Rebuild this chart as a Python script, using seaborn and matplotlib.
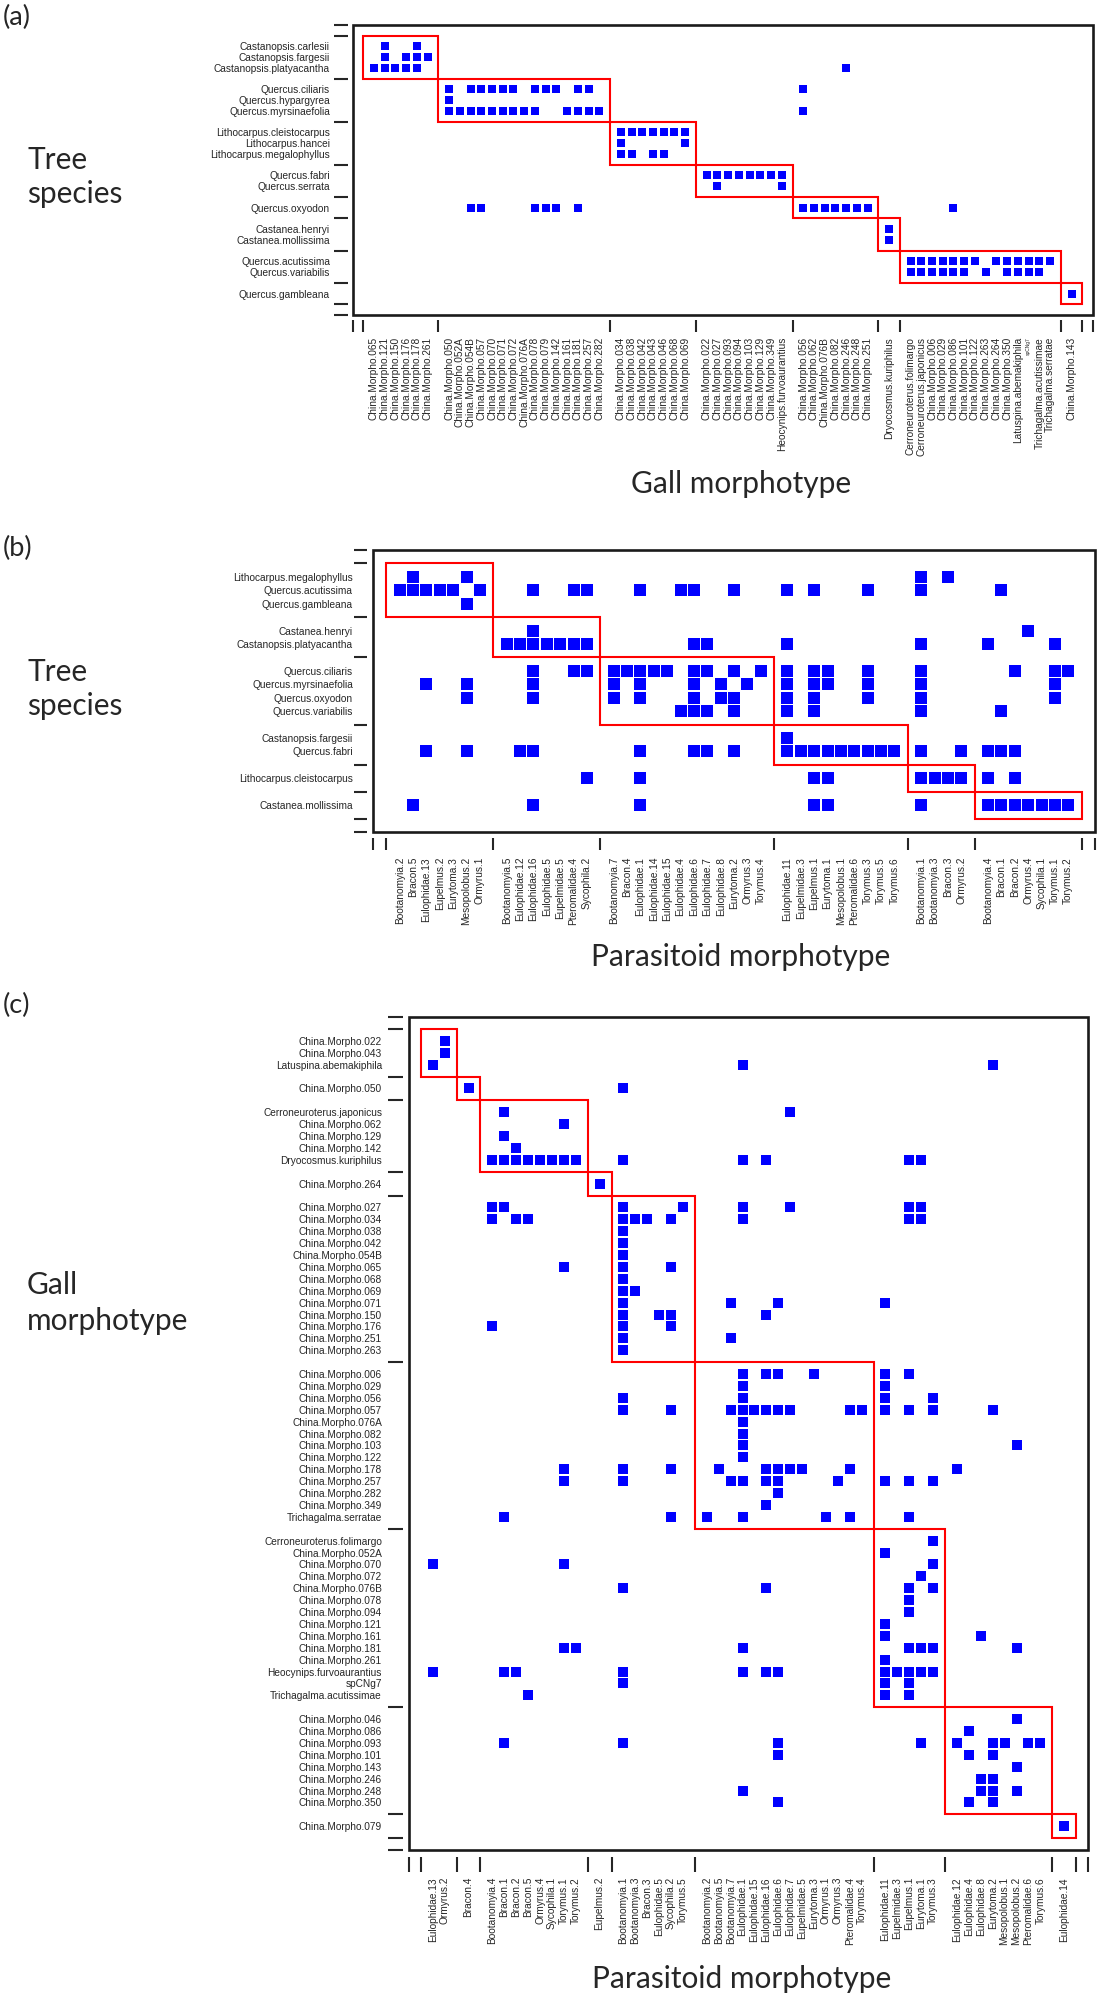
import numpy as np
import pandas as pd
import matplotlib
matplotlib.use("Agg")
import matplotlib.pyplot as plt
from matplotlib.patches import Rectangle
import seaborn as sns

# ---------------- Panel (a): tree species x gall morphotype ----------------
a_row_groups = [
    ["Castanopsis.carlesii", "Castanopsis.fargesii", "Castanopsis.platyacantha"],
    ["Quercus.ciliaris", "Quercus.hypargyrea", "Quercus.myrsinaefolia"],
    ["Lithocarpus.cleistocarpus", "Lithocarpus.hancei", "Lithocarpus.megalophyllus"],
    ["Quercus.fabri", "Quercus.serrata"],
    ["Quercus.oxyodon"],
    ["Castanea.henryi", "Castanea.mollissima"],
    ["Quercus.acutissima", "Quercus.variabilis"],
    ["Quercus.gambleana"],
]
a_col_groups = [
    ["China.Morpho.065", "China.Morpho.121", "China.Morpho.150", "China.Morpho.176",
     "China.Morpho.178", "China.Morpho.261"],
    ["China.Morpho.050", "China.Morpho.052A", "China.Morpho.054B", "China.Morpho.057",
     "China.Morpho.070", "China.Morpho.071", "China.Morpho.072", "China.Morpho.076A",
     "China.Morpho.078", "China.Morpho.079", "China.Morpho.142", "China.Morpho.161",
     "China.Morpho.181", "China.Morpho.257", "China.Morpho.282"],
    ["China.Morpho.034", "China.Morpho.038", "China.Morpho.042", "China.Morpho.043",
     "China.Morpho.046", "China.Morpho.068", "China.Morpho.069"],
    ["China.Morpho.022", "China.Morpho.027", "China.Morpho.093", "China.Morpho.094",
     "China.Morpho.103", "China.Morpho.129", "China.Morpho.349", "Heocynips.furvoaurantius"],
    ["China.Morpho.056", "China.Morpho.062", "China.Morpho.076B", "China.Morpho.082",
     "China.Morpho.246", "China.Morpho.248", "China.Morpho.251"],
    ["Dryocosmus.kuriphilus"],
    ["Cerroneuroterus.folimargo", "Cerroneuroterus.japonicus", "China.Morpho.006",
     "China.Morpho.029", "China.Morpho.086", "China.Morpho.101", "China.Morpho.122",
     "China.Morpho.263", "China.Morpho.264", "China.Morpho.350", "Latuspina.abemakiphila",
     "spCNg7", "Trichagalma.acutissimae", "Trichagalma.serratae"],
    ["China.Morpho.143"],
]
a_links = {
    "Castanopsis.carlesii": ["China.Morpho.121", "China.Morpho.178"],
    "Castanopsis.fargesii": ["China.Morpho.121", "China.Morpho.176", "China.Morpho.178",
                             "China.Morpho.261"],
    "Castanopsis.platyacantha": ["China.Morpho.065", "China.Morpho.121", "China.Morpho.150",
                                 "China.Morpho.176", "China.Morpho.178", "China.Morpho.246"],
    "Quercus.ciliaris": ["China.Morpho.050", "China.Morpho.054B", "China.Morpho.057",
                         "China.Morpho.070", "China.Morpho.071", "China.Morpho.072",
                         "China.Morpho.078", "China.Morpho.079", "China.Morpho.142",
                         "China.Morpho.181", "China.Morpho.257", "China.Morpho.056"],
    "Quercus.hypargyrea": ["China.Morpho.050"],
    "Quercus.myrsinaefolia": ["China.Morpho.050", "China.Morpho.052A", "China.Morpho.054B",
                              "China.Morpho.057", "China.Morpho.070", "China.Morpho.071",
                              "China.Morpho.072", "China.Morpho.076A", "China.Morpho.078",
                              "China.Morpho.161", "China.Morpho.181", "China.Morpho.257",
                              "China.Morpho.282", "China.Morpho.056"],
    "Lithocarpus.cleistocarpus": ["China.Morpho.034", "China.Morpho.038", "China.Morpho.042",
                                  "China.Morpho.043", "China.Morpho.046", "China.Morpho.068",
                                  "China.Morpho.069"],
    "Lithocarpus.hancei": ["China.Morpho.034", "China.Morpho.069"],
    "Lithocarpus.megalophyllus": ["China.Morpho.034", "China.Morpho.038", "China.Morpho.043",
                                  "China.Morpho.046"],
    "Quercus.fabri": ["China.Morpho.022", "China.Morpho.027", "China.Morpho.093",
                      "China.Morpho.094", "China.Morpho.103", "China.Morpho.129",
                      "China.Morpho.349", "Heocynips.furvoaurantius"],
    "Quercus.serrata": ["China.Morpho.027", "Heocynips.furvoaurantius"],
    "Quercus.oxyodon": ["China.Morpho.054B", "China.Morpho.057", "China.Morpho.078",
                        "China.Morpho.079", "China.Morpho.142", "China.Morpho.181",
                        "China.Morpho.056", "China.Morpho.062", "China.Morpho.076B",
                        "China.Morpho.082", "China.Morpho.246", "China.Morpho.248",
                        "China.Morpho.251", "China.Morpho.086"],
    "Castanea.henryi": ["Dryocosmus.kuriphilus"],
    "Castanea.mollissima": ["Dryocosmus.kuriphilus"],
    "Quercus.acutissima": ["Cerroneuroterus.folimargo", "Cerroneuroterus.japonicus",
                           "China.Morpho.006", "China.Morpho.029", "China.Morpho.086",
                           "China.Morpho.101", "China.Morpho.122", "China.Morpho.264",
                           "China.Morpho.350", "Latuspina.abemakiphila", "spCNg7",
                           "Trichagalma.acutissimae", "Trichagalma.serratae"],
    "Quercus.variabilis": ["Cerroneuroterus.folimargo", "Cerroneuroterus.japonicus",
                           "China.Morpho.006", "China.Morpho.029", "China.Morpho.086",
                           "China.Morpho.101", "China.Morpho.263", "China.Morpho.350",
                           "Latuspina.abemakiphila", "spCNg7", "Trichagalma.acutissimae"],
    "Quercus.gambleana": ["China.Morpho.143"],
}

# ---------------- Panel (b): tree species x parasitoid morphotype ----------------
b_row_groups = [
    ["Lithocarpus.megalophyllus", "Quercus.acutissima", "Quercus.gambleana"],
    ["Castanea.henryi", "Castanopsis.platyacantha"],
    ["Quercus.ciliaris", "Quercus.myrsinaefolia", "Quercus.oxyodon", "Quercus.variabilis"],
    ["Castanopsis.fargesii", "Quercus.fabri"],
    ["Lithocarpus.cleistocarpus"],
    ["Castanea.mollissima"],
]
b_col_groups = [
    ["Bootanomyia.2", "Bracon.5", "Eulophidae.13", "Eupelmus.2", "Eurytoma.3",
     "Mesopolobus.2", "Ormyrus.1"],
    ["Bootanomyia.5", "Eulophidae.12", "Eulophidae.16", "Eulophidae.5", "Eupelmidae.5",
     "Pteromalidae.4", "Sycophila.2"],
    ["Bootanomyia.7", "Bracon.4", "Eulophidae.1", "Eulophidae.14", "Eulophidae.15",
     "Eulophidae.4", "Eulophidae.6", "Eulophidae.7", "Eulophidae.8", "Eurytoma.2",
     "Ormyrus.3", "Torymus.4"],
    ["Eulophidae.11", "Eupelmidae.3", "Eupelmus.1", "Eurytoma.1", "Mesopolobus.1",
     "Pteromalidae.6", "Torymus.3", "Torymus.5", "Torymus.6"],
    ["Bootanomyia.1", "Bootanomyia.3", "Bracon.3", "Ormyrus.2"],
    ["Bootanomyia.4", "Bracon.1", "Bracon.2", "Ormyrus.4", "Sycophila.1", "Torymus.1",
     "Torymus.2"],
]
b_links = {
    "Lithocarpus.megalophyllus": ["Bracon.5", "Mesopolobus.2", "Bootanomyia.1", "Bracon.3"],
    "Quercus.acutissima": ["Bootanomyia.2", "Bracon.5", "Eulophidae.13", "Eupelmus.2",
                           "Eurytoma.3", "Ormyrus.1", "Eulophidae.16", "Pteromalidae.4",
                           "Sycophila.2", "Eulophidae.1", "Eulophidae.4", "Eulophidae.6",
                           "Eurytoma.2", "Eulophidae.11", "Eupelmus.1", "Torymus.3",
                           "Bootanomyia.1", "Bracon.1"],
    "Quercus.gambleana": ["Mesopolobus.2"],
    "Castanea.henryi": ["Eulophidae.16", "Ormyrus.4"],
    "Castanopsis.platyacantha": ["Bootanomyia.5", "Eulophidae.12", "Eulophidae.16",
                                 "Eulophidae.5", "Eupelmidae.5", "Pteromalidae.4",
                                 "Sycophila.2", "Eulophidae.6", "Eulophidae.7",
                                 "Eulophidae.11", "Bootanomyia.1", "Bootanomyia.4",
                                 "Torymus.1"],
    "Quercus.ciliaris": ["Eulophidae.16", "Pteromalidae.4", "Sycophila.2", "Bootanomyia.7",
                         "Bracon.4", "Eulophidae.1", "Eulophidae.14", "Eulophidae.15",
                         "Eulophidae.6", "Eulophidae.7", "Eurytoma.2", "Torymus.4",
                         "Eulophidae.11", "Eupelmus.1", "Eurytoma.1", "Torymus.3",
                         "Bootanomyia.1", "Bracon.2", "Torymus.1", "Torymus.2"],
    "Quercus.myrsinaefolia": ["Eulophidae.13", "Mesopolobus.2", "Eulophidae.16",
                              "Bootanomyia.7", "Eulophidae.1", "Eulophidae.6",
                              "Eulophidae.8", "Ormyrus.3", "Eulophidae.11", "Eupelmus.1",
                              "Eurytoma.1", "Torymus.3", "Bootanomyia.1", "Torymus.1"],
    "Quercus.oxyodon": ["Mesopolobus.2", "Eulophidae.16", "Bootanomyia.7", "Eulophidae.1",
                        "Eulophidae.6", "Eulophidae.8", "Eurytoma.2", "Eulophidae.11",
                        "Eupelmus.1", "Torymus.3", "Bootanomyia.1", "Torymus.1"],
    "Quercus.variabilis": ["Eulophidae.4", "Eulophidae.6", "Eulophidae.7", "Eurytoma.2",
                           "Eulophidae.11", "Eupelmus.1", "Bootanomyia.1", "Bracon.1"],
    "Castanopsis.fargesii": ["Eulophidae.11"],
    "Quercus.fabri": ["Eulophidae.13", "Mesopolobus.2", "Eulophidae.12", "Eulophidae.16",
                      "Eulophidae.1", "Eulophidae.6", "Eulophidae.7", "Eurytoma.2",
                      "Eulophidae.11", "Eupelmidae.3", "Eupelmus.1", "Eurytoma.1",
                      "Mesopolobus.1", "Pteromalidae.6", "Torymus.3", "Torymus.5",
                      "Torymus.6", "Bootanomyia.1", "Ormyrus.2", "Bootanomyia.4",
                      "Bracon.1", "Bracon.2"],
    "Lithocarpus.cleistocarpus": ["Sycophila.2", "Eulophidae.1", "Eupelmus.1", "Eurytoma.1",
                                  "Bootanomyia.1", "Bootanomyia.3", "Bracon.3", "Ormyrus.2",
                                  "Bootanomyia.4", "Bracon.2"],
    "Castanea.mollissima": ["Bracon.5", "Eulophidae.16", "Eulophidae.1", "Eupelmus.1",
                            "Eurytoma.1", "Bootanomyia.1", "Bootanomyia.4", "Bracon.1",
                            "Bracon.2", "Ormyrus.4", "Sycophila.1", "Torymus.1", "Torymus.2"],
}

# ---------------- Panel (c): gall morphotype x parasitoid morphotype ----------------
c_row_groups = [
    ["China.Morpho.022", "China.Morpho.043", "Latuspina.abemakiphila"],
    ["China.Morpho.050"],
    ["Cerroneuroterus.japonicus", "China.Morpho.062", "China.Morpho.129", "China.Morpho.142",
     "Dryocosmus.kuriphilus"],
    ["China.Morpho.264"],
    ["China.Morpho.027", "China.Morpho.034", "China.Morpho.038", "China.Morpho.042",
     "China.Morpho.054B", "China.Morpho.065", "China.Morpho.068", "China.Morpho.069",
     "China.Morpho.071", "China.Morpho.150", "China.Morpho.176", "China.Morpho.251",
     "China.Morpho.263"],
    ["China.Morpho.006", "China.Morpho.029", "China.Morpho.056", "China.Morpho.057",
     "China.Morpho.076A", "China.Morpho.082", "China.Morpho.103", "China.Morpho.122",
     "China.Morpho.178", "China.Morpho.257", "China.Morpho.282", "China.Morpho.349",
     "Trichagalma.serratae"],
    ["Cerroneuroterus.folimargo", "China.Morpho.052A", "China.Morpho.070", "China.Morpho.072",
     "China.Morpho.076B", "China.Morpho.078", "China.Morpho.094", "China.Morpho.121",
     "China.Morpho.161", "China.Morpho.181", "China.Morpho.261", "Heocynips.furvoaurantius",
     "spCNg7", "Trichagalma.acutissimae"],
    ["China.Morpho.046", "China.Morpho.086", "China.Morpho.093", "China.Morpho.101",
     "China.Morpho.143", "China.Morpho.246", "China.Morpho.248", "China.Morpho.350"],
    ["China.Morpho.079"],
]
c_col_groups = [
    ["Eulophidae.13", "Ormyrus.2"],
    ["Bracon.4"],
    ["Bootanomyia.4", "Bracon.1", "Bracon.2", "Bracon.5", "Ormyrus.4", "Sycophila.1",
     "Torymus.1", "Torymus.2"],
    ["Eupelmus.2"],
    ["Bootanomyia.1", "Bootanomyia.3", "Bracon.3", "Eulophidae.5", "Sycophila.2", "Torymus.5"],
    ["Bootanomyia.2", "Bootanomyia.5", "Bootanomyia.7", "Eulophidae.1", "Eulophidae.15",
     "Eulophidae.16", "Eulophidae.6", "Eulophidae.7", "Eupelmidae.5", "Eurytoma.3",
     "Ormyrus.1", "Ormyrus.3", "Pteromalidae.4", "Torymus.4"],
    ["Eulophidae.11", "Eupelmidae.3", "Eupelmus.1", "Eurytoma.1", "Torymus.3"],
    ["Eulophidae.12", "Eulophidae.4", "Eulophidae.8", "Eurytoma.2", "Mesopolobus.1",
     "Mesopolobus.2", "Pteromalidae.6", "Torymus.6"],
    ["Eulophidae.14"],
]
c_links = {
    "China.Morpho.022": ["Ormyrus.2"],
    "China.Morpho.043": ["Ormyrus.2"],
    "Latuspina.abemakiphila": ["Eulophidae.13", "Eulophidae.1", "Eurytoma.2"],
    "China.Morpho.050": ["Bracon.4", "Bootanomyia.1"],
    "Cerroneuroterus.japonicus": ["Bracon.1", "Eulophidae.7"],
    "China.Morpho.062": ["Torymus.1"],
    "China.Morpho.129": ["Bracon.1"],
    "China.Morpho.142": ["Bracon.2"],
    "Dryocosmus.kuriphilus": ["Bootanomyia.4", "Bracon.1", "Bracon.2", "Bracon.5", "Ormyrus.4",
                              "Sycophila.1", "Torymus.1", "Torymus.2", "Bootanomyia.1",
                              "Eulophidae.1", "Eulophidae.16", "Eupelmus.1", "Eurytoma.1"],
    "China.Morpho.264": ["Eupelmus.2"],
    "China.Morpho.027": ["Bootanomyia.4", "Bracon.1", "Bootanomyia.1", "Torymus.5",
                         "Eulophidae.1", "Eulophidae.7", "Eupelmus.1", "Eurytoma.1"],
    "China.Morpho.034": ["Bootanomyia.4", "Bracon.2", "Bracon.5", "Bootanomyia.1",
                         "Bootanomyia.3", "Bracon.3", "Sycophila.2", "Eulophidae.1",
                         "Eupelmus.1", "Eurytoma.1"],
    "China.Morpho.038": ["Bootanomyia.1"],
    "China.Morpho.042": ["Bootanomyia.1"],
    "China.Morpho.054B": ["Bootanomyia.1"],
    "China.Morpho.065": ["Torymus.1", "Bootanomyia.1", "Sycophila.2"],
    "China.Morpho.068": ["Bootanomyia.1"],
    "China.Morpho.069": ["Bootanomyia.1", "Bootanomyia.3"],
    "China.Morpho.071": ["Bootanomyia.1", "Bootanomyia.7", "Eulophidae.6", "Eulophidae.11"],
    "China.Morpho.150": ["Bootanomyia.1", "Eulophidae.5", "Sycophila.2", "Eulophidae.16"],
    "China.Morpho.176": ["Bootanomyia.4", "Bootanomyia.1", "Sycophila.2"],
    "China.Morpho.251": ["Bootanomyia.1", "Bootanomyia.7"],
    "China.Morpho.263": ["Bootanomyia.1"],
    "China.Morpho.006": ["Eulophidae.1", "Eulophidae.16", "Eulophidae.6", "Eurytoma.3",
                         "Eulophidae.11", "Eupelmus.1"],
    "China.Morpho.029": ["Eulophidae.1", "Eulophidae.11"],
    "China.Morpho.056": ["Bootanomyia.1", "Eulophidae.1", "Eulophidae.11", "Torymus.3"],
    "China.Morpho.057": ["Bootanomyia.1", "Sycophila.2", "Bootanomyia.7", "Eulophidae.1",
                         "Eulophidae.15", "Eulophidae.16", "Eulophidae.6", "Eulophidae.7",
                         "Pteromalidae.4", "Torymus.4", "Eulophidae.11", "Eupelmus.1",
                         "Torymus.3", "Eurytoma.2"],
    "China.Morpho.076A": ["Eulophidae.1"],
    "China.Morpho.082": ["Eulophidae.1"],
    "China.Morpho.103": ["Eulophidae.1", "Mesopolobus.2"],
    "China.Morpho.122": ["Eulophidae.1"],
    "China.Morpho.178": ["Torymus.1", "Bootanomyia.1", "Sycophila.2", "Bootanomyia.5",
                         "Eulophidae.16", "Eulophidae.6", "Eulophidae.7", "Eupelmidae.5",
                         "Pteromalidae.4", "Eulophidae.12"],
    "China.Morpho.257": ["Torymus.1", "Bootanomyia.1", "Bootanomyia.7", "Eulophidae.1",
                         "Eulophidae.16", "Eulophidae.6", "Ormyrus.3", "Eulophidae.11",
                         "Eupelmus.1", "Torymus.3"],
    "China.Morpho.282": ["Eulophidae.6"],
    "China.Morpho.349": ["Eulophidae.16"],
    "Trichagalma.serratae": ["Bracon.1", "Sycophila.2", "Bootanomyia.2", "Eulophidae.1",
                             "Ormyrus.1", "Pteromalidae.4", "Eupelmus.1"],
    "Cerroneuroterus.folimargo": ["Torymus.3"],
    "China.Morpho.052A": ["Eulophidae.11"],
    "China.Morpho.070": ["Eulophidae.13", "Torymus.1", "Torymus.3"],
    "China.Morpho.072": ["Eurytoma.1"],
    "China.Morpho.076B": ["Bootanomyia.1", "Eulophidae.16", "Eupelmus.1", "Torymus.3"],
    "China.Morpho.078": ["Eupelmus.1"],
    "China.Morpho.094": ["Eupelmus.1"],
    "China.Morpho.121": ["Eulophidae.11"],
    "China.Morpho.161": ["Eulophidae.11", "Eulophidae.8"],
    "China.Morpho.181": ["Torymus.1", "Torymus.2", "Eulophidae.1", "Eupelmus.1", "Eurytoma.1",
                         "Torymus.3", "Mesopolobus.2"],
    "China.Morpho.261": ["Eulophidae.11"],
    "Heocynips.furvoaurantius": ["Eulophidae.13", "Bracon.1", "Bracon.2", "Bootanomyia.1",
                                 "Eulophidae.1", "Eulophidae.16", "Eulophidae.6",
                                 "Eulophidae.11", "Eupelmidae.3", "Eupelmus.1", "Eurytoma.1",
                                 "Torymus.3"],
    "spCNg7": ["Bootanomyia.1", "Eulophidae.11", "Eupelmus.1"],
    "Trichagalma.acutissimae": ["Bracon.5", "Eulophidae.11", "Eupelmus.1"],
    "China.Morpho.046": ["Mesopolobus.2"],
    "China.Morpho.086": ["Eulophidae.4"],
    "China.Morpho.093": ["Bracon.1", "Bootanomyia.1", "Eulophidae.6", "Eurytoma.1",
                         "Eulophidae.12", "Eurytoma.2", "Mesopolobus.1", "Pteromalidae.6",
                         "Torymus.6"],
    "China.Morpho.101": ["Eulophidae.6", "Eulophidae.4", "Eurytoma.2"],
    "China.Morpho.143": ["Mesopolobus.2"],
    "China.Morpho.246": ["Eulophidae.8", "Eurytoma.2"],
    "China.Morpho.248": ["Eulophidae.1", "Eulophidae.8", "Eurytoma.2", "Mesopolobus.2"],
    "China.Morpho.350": ["Eulophidae.6", "Eulophidae.4", "Eurytoma.2"],
    "China.Morpho.079": ["Eulophidae.14"],
}

# ---------------- drawing ----------------
sns.set_style("white")
plt.rcParams["font.family"] = ["Liberation Sans", "DejaVu Sans"]

W, H = 1103, 2000
fig = plt.figure(figsize=(W / 100, H / 100), dpi=100)
PT = 0.72  # points per pixel at 100 dpi


def layout(groups):
    pos, spacers, bounds = {}, [0], []
    p = 0
    for g in groups:
        start = p
        for name in g:
            p += 1
            pos[name] = p
        p += 1
        spacers.append(p)
        bounds.append((start, p))
    return pos, spacers, bounds, p


def panel(box, row_groups, col_groups, links, frac, gap_y, gap_x, len_y, len_x,
          pad_y, pad_x, fsize=7.3, small_labels=()):
    l, t, r, b = box
    ax = fig.add_axes([l / W, 1 - b / H, (r - l) / W, (b - t) / H])
    rpos, rsp, rbounds, rmax = layout(row_groups)
    cpos, csp, cbounds, cmax = layout(col_groups)
    recs = [{"col": c, "row": rname, "x": cpos[c], "y": rpos[rname]}
            for rname, cols in links.items() for c in cols]
    df = pd.DataFrame(recs)
    pitch_px = (r - l) / (cmax + 2)
    side_pt = frac * pitch_px * PT
    sns.scatterplot(data=df, x="x", y="y", marker="s", s=side_pt ** 2, color="#0000FF",
                    linewidth=0, ax=ax, legend=False, zorder=3)
    ax.set_xlim(-1, cmax + 1)
    ax.set_ylim(rmax + 1, -1)
    ax.set_xlabel("")
    ax.set_ylabel("")
    # group boxes
    for (c0, c1), (r0, r1) in zip(cbounds, rbounds):
        ax.add_patch(Rectangle((c0, r0), c1 - c0, r1 - r0, fill=False, ec="#ff0000",
                               lw=1.5, zorder=2))
    # frame
    ax.add_patch(Rectangle((0, 0), 1, 1, transform=ax.transAxes, fill=False,
                           ec="#1a1a1a", lw=1.9, clip_on=False, zorder=4))
    for s in ax.spines.values():
        s.set_visible(False)
    ax.spines["left"].set_position(("outward", gap_y * PT))
    ax.spines["bottom"].set_position(("outward", gap_x * PT))
    # major ticks: group separators (red) and axis ends (black)
    xmaj = [-1] + csp + [cmax + 1]
    ymaj = [-1] + rsp + [rmax + 1]
    ax.set_xticks(xmaj, labels=[""] * len(xmaj))
    ax.set_yticks(ymaj, labels=[""] * len(ymaj))
    xnames = [n for g in col_groups for n in g]
    ynames = [n for g in row_groups for n in g]
    ax.set_xticks([cpos[n] for n in xnames], labels=xnames, minor=True, rotation=90)
    ax.set_yticks([rpos[n] for n in ynames], labels=ynames, minor=True)
    ax.tick_params(axis="x", which="major", length=len_x * PT, width=1.5, direction="out",
                   bottom=True, top=False)
    ax.tick_params(axis="y", which="major", length=len_y * PT, width=1.5, direction="out",
                   left=True, right=False)
    ax.tick_params(axis="x", which="minor", length=0, pad=pad_x * PT, labelsize=fsize)
    ax.tick_params(axis="y", which="minor", length=0, pad=pad_y * PT, labelsize=fsize)
    for tk, v in zip(ax.xaxis.get_major_ticks(), xmaj):
        tk.tick1line.set_color("#1a1a1a" if v in (-1, cmax + 1) else "#ff0000")
    for tk, v in zip(ax.yaxis.get_major_ticks(), ymaj):
        tk.tick1line.set_color("#1a1a1a" if v in (-1, rmax + 1) else "#ff0000")
    for lab in ax.get_xticklabels(minor=True):
        if lab.get_text() in small_labels:
            lab.set_fontsize(3.5)
    ax.grid(False)
    return ax


panel((352.5, 25, 1093, 315), a_row_groups, a_col_groups, a_links, frac=0.8,
      gap_y=4.5, gap_x=5, len_y=14, len_x=12, pad_y=18, pad_x=17,
      small_labels=("spCNg7",))
panel((373, 550, 1095, 832), b_row_groups, b_col_groups, b_links, frac=0.86,
      gap_y=6, gap_x=6, len_y=13.5, len_x=12, pad_y=14, pad_x=19)
panel((409, 1017, 1088, 1850), c_row_groups, c_col_groups, c_links, frac=0.84,
      gap_y=6, gap_x=7, len_y=15.5, len_x=15, pad_y=21, pad_x=20)

TF = ["Lato", "DejaVu Sans"]
def ftxt(xpx, ypx, s, **kw):
    fig.text(xpx / W, 1 - ypx / H, s, family=TF, **kw)

ftxt(3, 17, "(a)", fontsize=19.5, ha="left", va="center")
ftxt(3, 548, "(b)", fontsize=19.5, ha="left", va="center")
ftxt(3, 1005, "(c)", fontsize=19.5, ha="left", va="center")
ftxt(27, 177, "Tree\nspecies", fontsize=21.5, ha="left", va="center", linespacing=1.3)
ftxt(27, 689, "Tree\nspecies", fontsize=21.5, ha="left", va="center", linespacing=1.3)
ftxt(27, 1303, "Gall\nmorphotype", fontsize=21.5, ha="left", va="center", linespacing=1.38)
ftxt(741, 484, "Gall morphotype", fontsize=21.5, ha="center", va="center")
ftxt(741, 957, "Parasitoid morphotype", fontsize=21.5, ha="center", va="center")
ftxt(742, 1979, "Parasitoid morphotype", fontsize=21.5, ha="center", va="center")

fig.savefig("out.png", dpi=100)
